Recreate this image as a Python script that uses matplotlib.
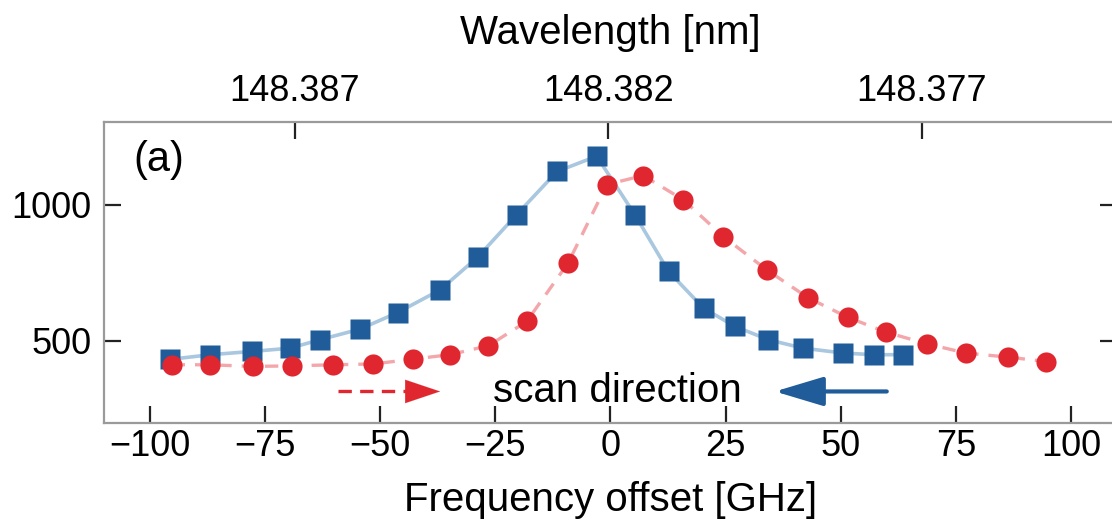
import matplotlib
matplotlib.use('Agg')
import matplotlib.pyplot as plt

plt.rcParams['font.family'] = ['Liberation Sans', 'DejaVu Sans']

# blue squares (scan towards lower frequency)
blue_x = [-95.6, -86.9, -77.8, -69.6, -63.1, -54.4, -46.2, -37.0, -28.8, -20.4, -11.6,
          -3.0, 5.3, 12.6, 20.2, 27.0, 34.3, 41.8, 50.6, 57.2, 63.5]
blue_y = [432, 449, 461, 473, 504, 543, 604, 687, 808, 963, 1122,
          1178, 963, 755, 620, 553, 504, 473, 455, 449, 449]

# red circles (scan towards higher frequency)
red_x = [-95.3, -87.0, -77.7, -69.2, -60.2, -51.5, -42.8, -34.9, -26.5, -18.2, -9.2, -0.8,
         7.1, 15.8, 24.5, 33.9, 43.0, 51.6, 59.8, 68.7, 77.2, 86.4, 94.6]
red_y = [412, 412, 406, 408, 412, 415, 433, 449, 482, 571, 786, 1074,
         1107, 1018, 883, 761, 657, 586, 532, 489, 455, 440, 424]

x_ticks = [-100, -75, -50, -25, 0, 25, 50, 75, 100]
y_ticks = [500, 1000]
wl_ticks = [148.387, 148.382, 148.377]

BLUE = '#1f5c99'
BLUE_LINE = '#a9c7df'
RED = '#e0262e'
RED_LINE = '#f4a7aa'

C = 299792458.0
LAM0 = 148.381963           # nm at zero offset
F0 = C / (LAM0 * 1e-9) / 1e9  # GHz


def f2l(df):
    return C / ((F0 + df) * 1e9) * 1e9


def l2f(lam):
    return C / (lam * 1e-9) / 1e9 - F0


fig = plt.figure(figsize=(11.12, 5.20), dpi=100)
ax = fig.add_axes([0.0935, 0.1875, 0.911, 0.577])

ax.plot(blue_x, blue_y, '-', color=BLUE_LINE, lw=2.6, zorder=2)
ax.plot(blue_x, blue_y, 's', color=BLUE, ms=14, mec='none', zorder=3)
ax.plot(red_x, red_y, '--', color=RED_LINE, lw=2.4, dashes=(4, 3), zorder=4)
ax.plot(red_x, red_y, 'o', color=RED, ms=14.5, mec='none', zorder=5)

ax.set_xlim(-110, 110)
ax.set_ylim(200, 1302)
ax.set_xticks(x_ticks)
ax.set_xticklabels([str(t).replace('-', '\u2212') for t in x_ticks])
ax.set_yticks(y_ticks)

for s in ax.spines.values():
    s.set_color('#9a9a9a')
    s.set_linewidth(1.6)
ax.tick_params(axis='both', direction='in', length=12, width=1.6, color='#222222',
               labelsize=26)
ax.tick_params(axis='x', top=False, pad=5)
ax.tick_params(axis='y', right=True, pad=9)

ax.set_xlabel('Frequency offset [GHz]', fontsize=29, labelpad=12)

sec = ax.secondary_xaxis('top', functions=(f2l, l2f))
sec.set_xticks(wl_ticks)
sec.set_xticklabels(['%.3f' % t for t in wl_ticks])
sec.tick_params(direction='in', length=12, width=1.6, color='#222222', labelsize=26, pad=10)
sec.spines['top'].set_visible(False)
sec.set_xlabel('Wavelength [nm]', fontsize=29, labelpad=21)

ax.text(-103.7, 1122, '(a)', fontsize=30, ha='left', va='baseline')
ax.text(1.4, 277, 'scan direction', fontsize=29, ha='center', va='baseline')

# red dashed arrow (left to right)
ax.plot([-59.2, -44.0], [314, 314], '--', color=RED, lw=2.4, dashes=(4, 2.5))
ax.annotate('', xy=(-37.0, 314), xytext=(-45.0, 314),
            arrowprops=dict(arrowstyle='-|>,head_length=1.25,head_width=0.42',
                            mutation_scale=20, color=RED, lw=0.1, shrinkA=0, shrinkB=0))
# blue solid arrow (right to left)
ax.annotate('', xy=(35.7, 314), xytext=(60.0, 314),
            arrowprops=dict(arrowstyle='-|>,head_length=1.5,head_width=0.45',
                            mutation_scale=20, color=BLUE, lw=3, shrinkA=0, shrinkB=0))

fig.savefig('out.png', dpi=100)
